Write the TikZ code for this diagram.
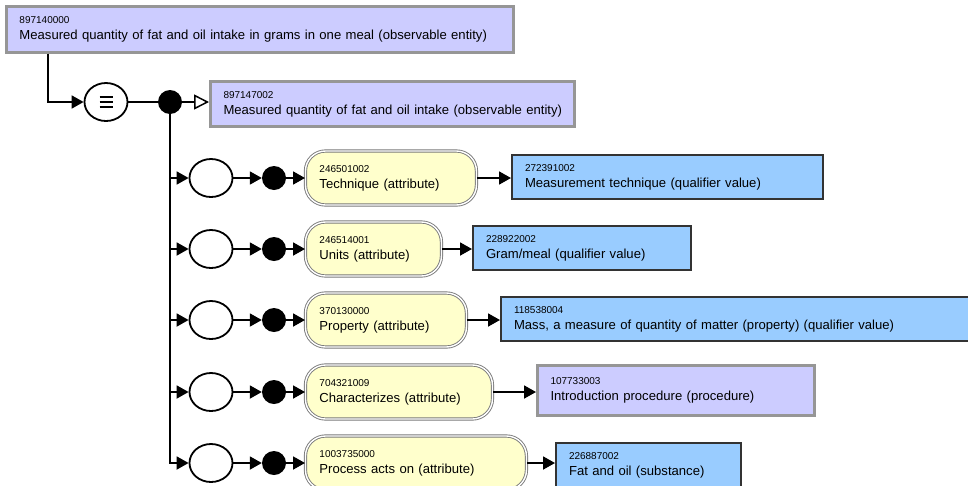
\documentclass[tikz,border=0pt]{standalone}
\usepackage{fontspec}
\setmainfont{Liberation Sans}
\usetikzlibrary{arrows.meta,shapes.geometric}
\definecolor{lav}{HTML}{CCCCFF}
\definecolor{lavedge}{HTML}{969696}
\definecolor{skyf}{HTML}{99CCFF}
\definecolor{skyedge}{HTML}{333333}
\definecolor{attrf}{HTML}{FFFFCC}
\definecolor{attredge}{HTML}{7A7A7A}

% concept label: small identifier above the description (never wrapped)
\newcommand{\cpt}[2]{\mbox{\fontsize{10}{12}\selectfont #1}\\\mbox{#2}}

\begin{document}
\begin{tikzpicture}[x=1pt,y=-1pt,
  every node/.style={font=\fontsize{13.1}{16}\selectfont},
  conceptbox/.style={rectangle, anchor=west, align=left, inner xsep=13pt, inner ysep=0pt},
  defined/.style={conceptbox, fill=lav, draw=lavedge, line width=3pt},
  primitive/.style={conceptbox, fill=skyf, draw=skyedge, line width=2pt},
  attrbox/.style={rectangle, anchor=west, align=left, inner xsep=14pt, inner ysep=0pt,
    rounded corners=20pt, minimum height=54pt, fill=attrf, draw=attredge,
    line width=0.9pt, double=white, double distance=1.4pt},
  junction/.style={ellipse, draw, fill=white, line width=1.8pt, minimum width=43pt, minimum height=38pt, inner sep=0pt},
  conj/.style={circle, fill=black, minimum size=24pt, inner sep=0pt},
  link/.style={line width=1.8pt, -{Triangle[length=12pt,width=13pt]}},
  plain/.style={line width=1.8pt},
  bar/.style={line width=2.2pt},
  isa/.style={line width=1.5pt, -{Triangle[open,length=15pt,width=15pt,fill=white]}}
]
\clip (0,0) rectangle (968,485);
\fill[white] (0,0) rectangle (968,485);

% focus concept and its definition status
\node[defined, text width=481pt, minimum height=46pt] (top) at (5,29)
  {\cpt{897140000}{Measured quantity of fat and oil intake in grams in one meal (observable entity)}};
\node[junction] (eq) at (106,102) {};
\foreach \dy in {-5,0,5}{
  \draw[bar] ([shift={(-6.5,\dy)}]eq.center) -- ([shift={(6.5,\dy)}]eq.center);
}
\node[conj] (d0) at (170,102) {};
\node[defined, text width=338pt, minimum height=45pt] (parent) at (209,104)
  {\cpt{897147002}{Measured quantity of fat and oil intake (observable entity)}};

% attribute groups
\foreach \i/\y in {1/178,2/249,3/320,4/392,5/463}{
  \node[junction] (j\i) at (211,\y) {};
  \node[conj] (d\i) at (274,\y) {};
}
\node[attrbox, text width=143pt] (a1) at (305,178) {\cpt{246501002}{Technique (attribute)}};
\node[attrbox, text width=108pt] (a2) at (305,249) {\cpt{246514001}{Units (attribute)}};
\node[attrbox, text width=133pt] (a3) at (305,320) {\cpt{370130000}{Property (attribute)}};
\node[attrbox, text width=159pt] (a4) at (305,392) {\cpt{704321009}{Characterizes (attribute)}};
\node[attrbox, text width=193pt] (a5) at (305,463) {\cpt{1003735000}{Process acts on (attribute)}};

% attribute values
\node[primitive, text width=285pt, minimum height=44pt] (v1) at (511,177)
  {\cpt{272391002}{Measurement technique (qualifier value)}};
\node[primitive, text width=192pt, minimum height=44pt] (v2) at (472,248)
  {\cpt{228922002}{Gram/meal (qualifier value)}};
\node[primitive, text width=449pt, minimum height=44pt] (v3) at (500,319)
  {\cpt{118538004}{Mass, a measure of quantity of matter (property) (qualifier value)}};
\node[defined, text width=251pt, minimum height=50pt] (v4) at (536,390)
  {\cpt{107733003}{Introduction procedure (procedure)}};
\node[primitive, text width=159pt, minimum height=44pt] (v5) at (555,465)
  {\cpt{226887002}{Fat and oil (substance)}};

% connectors
\draw[link] ([xshift=43pt]top.south west) |- (eq.west);
\draw[plain] (eq.east) -- (d0.west);
\draw[isa] (d0.east) -- (parent.west |- d0.east);
\draw[link] (d0.center) |- (j5.west);
\foreach \i in {1,2,3,4}{
  \draw[link] (d0.center |- j\i) -- (j\i.west);
}
\foreach \i in {1,2,3,4,5}{
  \draw[link] (j\i.east) -- (d\i.west);
  \draw[link] (d\i.east) -- (a\i.west);
  \draw[link] (a\i.east) -- (a\i.east -| v\i.west);
}
\end{tikzpicture}
\end{document}
